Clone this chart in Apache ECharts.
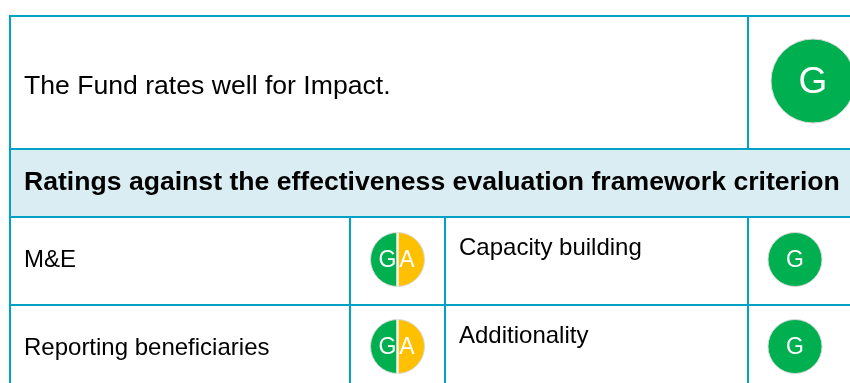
<!DOCTYPE html>
<html lang="en">
  <head>
    <meta charset="UTF-8" />
    <title>Fund ratings</title>
    <script src="https://cdn.jsdelivr.net/npm/echarts@6/dist/echarts.min.js"></script>
    <style>
      html, body { margin: 0; padding: 0; background: #fff; }
      #main { width: 850px; height: 383px; }
    </style>
  </head>
  <body>
    <div id="main"></div>
    <script>
      var summaryText = "The Fund rates well for Impact.";
      var summaryRating = "G";
      var headerText = "Ratings against the effectiveness evaluation framework criterion";
      var leftCriteria = ["M&E", "Reporting beneficiaries"];
      var leftRatings = ["GA", "GA"];
      var rightCriteria = ["Capacity building", "Additionality"];
      var rightRatings = ["G", "G"];

      var GREEN = "#00b050";
      var AMBER = "#ffc000";
      var RULE = "#00a3c4";
      var FONT = '"Liberation Sans", Arial, sans-serif';

      var myChart = echarts.init(document.getElementById("main"));

      // rows of the small rating cells
      var rowCentre = [259.5, 346.5];
      var leftTextY = [260, 348];
      var rightTextY = [248, 336];

      var graphics = [];

      function rule(x1, y1, x2, y2) {
        graphics.push({
          type: "line",
          z: 1,
          shape: { x1: x1, y1: y1, x2: x2, y2: y2 },
          style: { stroke: RULE, lineWidth: 2 }
        });
      }

      function label(text, x, y, size, weight, color, align) {
        graphics.push({
          type: "text",
          z: 20,
          x: x,
          y: y,
          style: {
            text: text,
            fill: color || "#000",
            font: (weight || "normal") + " " + size + "px " + FONT,
            textAlign: align || "left",
            textVerticalAlign: "middle"
          }
        });
      }

      // header band
      graphics.push({
        type: "rect",
        z: 0,
        shape: { x: 10, y: 150, width: 840, height: 66 },
        style: { fill: "#daedf3" }
      });

      rule(9, 16, 850, 16);
      rule(10, 149, 850, 149);
      rule(10, 217, 850, 217);
      rule(10, 305, 850, 305);
      rule(10, 16, 10, 383);
      rule(748, 16, 748, 149);
      rule(748, 217, 748, 383);
      rule(350, 217, 350, 383);
      rule(445, 217, 445, 383);

      label(summaryText, 24, 87, 26.6);
      label(headerText, 24, 183, 26.6, "bold");

      var series = [];

      function ratingPie(rating, cx, cy, r, size, textDy) {
        var data = [];
        // clockwise from the top, so amber comes first to land on the right
        if (rating.indexOf("A") >= 0) data.push({ value: 1, itemStyle: { color: AMBER } });
        if (rating.indexOf("G") >= 0) data.push({ value: 1, itemStyle: { color: GREEN } });
        series.push({
          type: "pie",
          silent: true,
          animation: false,
          center: [cx, cy],
          radius: [0, r],
          startAngle: 90,
          label: { show: false },
          labelLine: { show: false },
          itemStyle: { borderColor: "#d8d8d8", borderWidth: 1 },
          data: data
        });
        if (rating.length > 1) {
          graphics.push({
            type: "line",
            z: 15,
            shape: { x1: cx, y1: cy - r, x2: cx, y2: cy + r },
            style: { stroke: "#f4f4f4", lineWidth: 2.5 }
          });
          label(rating[0], cx - 10, cy + textDy, size, "normal", "#fff", "center");
          label(rating[1], cx + 9.5, cy + textDy, size, "normal", "#fff", "center");
        } else {
          label(rating, cx, cy + textDy, size, "normal", "#fff", "center");
        }
      }

      ratingPie(summaryRating, 813, 81, 42, 37, 2);
      for (var i = 0; i < rowCentre.length; i++) {
        label(leftCriteria[i], 24, leftTextY[i], 24);
        label(rightCriteria[i], 459, rightTextY[i], 24);
        ratingPie(leftRatings[i], 397.5, rowCentre[i], 27, 23, 1);
        ratingPie(rightRatings[i], 795, rowCentre[i], 27, 23, 1);
      }

      var option = {
        backgroundColor: "#fff",
        animation: false,
        graphic: { elements: graphics },
        series: series
      };
      myChart.setOption(option);
    </script>
  </body>
</html>
